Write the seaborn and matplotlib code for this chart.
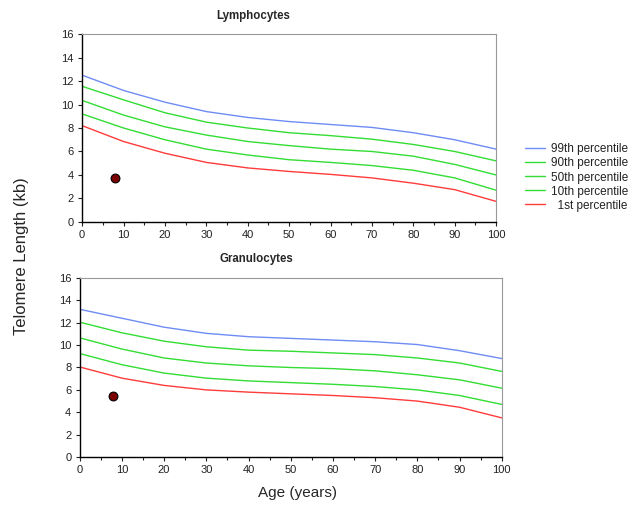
"""
Telomere length percentile curves for lymphocytes and granulocytes.
Output: out.png
"""
import pandas as pd
import matplotlib.pyplot as plt
import seaborn as sns
from matplotlib.ticker import MultipleLocator

FIG_PATH = "out.png"

AGES = [0, 10, 20, 30, 40, 50, 60, 70, 80, 90, 100]
PERCENTILES = ["99th percentile", "90th percentile", "50th percentile",
               "10th percentile", "1st percentile"]

# Lymphocytes (kb)
LYM_P99 = [12.5, 11.2, 10.2, 9.4, 8.9, 8.55, 8.3, 8.05, 7.6, 7.0, 6.2]
LYM_P90 = [11.55, 10.4, 9.3, 8.5, 8.0, 7.6, 7.35, 7.05, 6.6, 6.0, 5.2]
LYM_P50 = [10.35, 9.1, 8.1, 7.4, 6.85, 6.5, 6.2, 6.0, 5.6, 4.9, 4.0]
LYM_P10 = [9.2, 8.0, 7.0, 6.2, 5.7, 5.3, 5.07, 4.8, 4.4, 3.75, 2.7]
LYM_P1 = [8.2, 6.85, 5.85, 5.07, 4.6, 4.3, 4.05, 3.75, 3.3, 2.75, 1.75]
LYM_PATIENT = (8, 3.7)

# Granulocytes (kb)
GRA_P99 = [13.2, 12.4, 11.6, 11.05, 10.75, 10.6, 10.45, 10.3, 10.05, 9.5, 8.8]
GRA_P90 = [12.05, 11.1, 10.35, 9.85, 9.55, 9.45, 9.3, 9.15, 8.85, 8.4, 7.65]
GRA_P50 = [10.65, 9.65, 8.85, 8.4, 8.15, 8.0, 7.9, 7.7, 7.35, 6.9, 6.15]
GRA_P10 = [9.25, 8.25, 7.5, 7.05, 6.8, 6.65, 6.5, 6.3, 6.0, 5.5, 4.7]
GRA_P1 = [8.05, 7.05, 6.4, 6.0, 5.8, 5.65, 5.5, 5.3, 5.0, 4.45, 3.5]
GRA_PATIENT = (8, 5.45)

COLORS = ["#6f8cf5", "#33dd33", "#33dd33", "#33dd33", "#ff3b3b"]


def long_df(series):
    rows = []
    for name, vals in zip(PERCENTILES, series):
        for a, v in zip(AGES, vals):
            rows.append({"age": a, "tl": v, "pct": name})
    return pd.DataFrame(rows)


def style_axis(ax):
    ax.set_xlim(0, 100)
    ax.set_ylim(0, 16)
    ax.xaxis.set_major_locator(MultipleLocator(10))
    ax.xaxis.set_minor_locator(MultipleLocator(5))
    ax.yaxis.set_major_locator(MultipleLocator(2))
    ax.tick_params(which="both", direction="out", bottom=True, left=True,
                   length=3, width=0.8, labelsize=8, colors="#222222",
                   pad=3)
    ax.tick_params(which="minor", length=2)
    for s in ("left", "bottom"):
        ax.spines[s].set_color("black")
        ax.spines[s].set_linewidth(1.0)
    for s in ("top", "right"):
        ax.spines[s].set_color("#999999")
        ax.spines[s].set_linewidth(0.8)
    ax.set_xlabel("")
    ax.set_ylabel("")


def draw(ax, series, patient):
    df = long_df(series)
    sns.lineplot(data=df, x="age", y="tl", hue="pct", hue_order=PERCENTILES,
                 palette=COLORS, linewidth=1.0, ax=ax, legend=False)
    ax.scatter([patient[0]], [patient[1]], s=40, color="#7a0000",
               edgecolor="black", linewidth=0.8, zorder=5)
    style_axis(ax)


def main():
    sns.set_style("white")
    plt.rcParams["font.family"] = ["Liberation Sans", "DejaVu Sans"]
    fig = plt.figure(figsize=(6.32, 5.09), dpi=100)
    ax1 = fig.add_axes([0.130, 0.564, 0.655, 0.369])
    ax2 = fig.add_axes([0.126, 0.102, 0.668, 0.352])

    draw(ax1, [LYM_P99, LYM_P90, LYM_P50, LYM_P10, LYM_P1], LYM_PATIENT)
    draw(ax2, [GRA_P99, GRA_P90, GRA_P50, GRA_P10, GRA_P1], GRA_PATIENT)

    fig.text(253 / 632, 1 - 16 / 509, "Lymphocytes", ha="center", va="center",
             fontsize=8.3, fontweight="bold")
    fig.text(256 / 632, 1 - 259 / 509, "Granulocytes", ha="center", va="center",
             fontsize=8.3, fontweight="bold")
    fig.text(22 / 632, 1 - 256 / 509, "Telomere Length (kb)", rotation=90,
             ha="center", va="center", fontsize=12)
    fig.text(297 / 632, 1 - 493 / 509, "Age (years)", ha="center", va="center",
             fontsize=11)

    handles = [plt.Line2D([], [], color=c, linewidth=1.0) for c in COLORS]
    labels = ["99th percentile", "90th percentile", "50th percentile",
              "10th percentile", "  1st percentile"]
    fig.legend(handles, labels, loc="center left",
               bbox_to_anchor=(514 / 632, 1 - 177.5 / 509), frameon=False,
               fontsize=8.5, handlelength=1.7, handletextpad=0.5,
               labelspacing=0.17, labelcolor="#222222")

    fig.savefig(FIG_PATH, dpi=100)
    plt.close()


if __name__ == "__main__":
    main()
